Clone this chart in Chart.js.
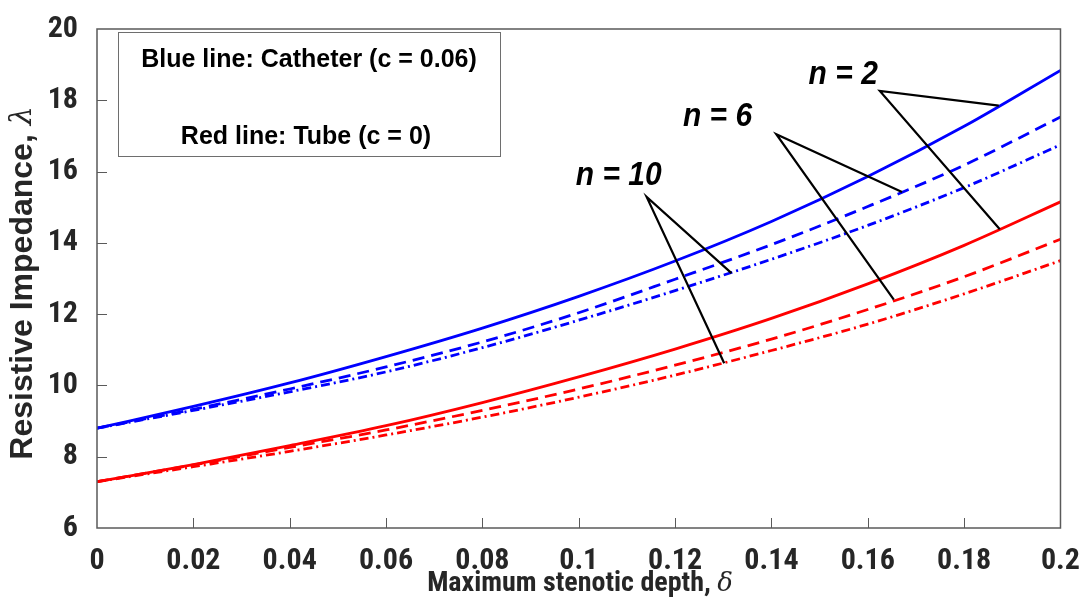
<!DOCTYPE html>
<html>
<head>
<meta charset="utf-8">
<script src="https://cdn.jsdelivr.net/npm/chart.js@4/dist/chart.umd.min.js"></script>
<style>
  html, body { margin: 0; padding: 0; background: #fff; }
  canvas { display: block; }
</style>
</head>
<body>
<canvas id="chart" width="1087" height="600"></canvas>
<script>
// stenotic depth values (x) and resistive impedance
const depth = [0, 0.02, 0.04, 0.06, 0.08, 0.1, 0.12, 0.14, 0.16, 0.18, 0.2];

const catheterN2  = [8.80, 9.41, 10.07, 10.81, 11.61, 12.50, 13.49, 14.60, 15.86, 17.27, 18.84];
const catheterN6  = [8.80, 9.33, 9.90, 10.52, 11.22, 12.04, 12.98, 13.95, 15.02, 16.18, 17.53];
const catheterN10 = [8.80, 9.30, 9.82, 10.38, 11.06, 11.83, 12.66, 13.54, 14.49, 15.55, 16.75];

const tubeN2  = [7.30, 7.78, 8.31, 8.87, 9.52, 10.24, 11.02, 11.88, 12.85, 13.93, 15.15];
const tubeN6  = [7.30, 7.77, 8.26, 8.75, 9.30, 9.90, 10.57, 11.30, 12.13, 13.05, 14.10];
const tubeN10 = [7.30, 7.72, 8.15, 8.61, 9.11, 9.67, 10.29, 10.98, 11.72, 12.57, 13.50];

const xTicks = [0, 0.02, 0.04, 0.06, 0.08, 0.1, 0.12, 0.14, 0.16, 0.18, 0.2];
const xTickLabels = ['0', '0.02', '0.04', '0.06', '0.08', '0.1', '0.12', '0.14', '0.16', '0.18', '0.2'];
const yTicks = [6, 8, 10, 12, 14, 16, 18, 20];

// "n = ..." callouts, in data units
const calloutText = ['n = 2', 'n = 6', 'n = 10'];
const calloutX = [0.1549, 0.1288, 0.1083];
const calloutY = [18.72, 17.54, 15.89];
const apexX = [0.1625, 0.1410, 0.1141];
const apexY = [18.26, 17.05, 15.29];
const blueEndX = [0.1872, 0.1671, 0.1317];
const blueEndY = [17.85, 15.43, 13.15];
const redEndX = [0.1874, 0.1654, 0.1302];
const redEndY = [14.38, 12.41, 10.62];

const legendLines = ['Blue line: Catheter (c = 0.06)', 'Red line: Tube (c = 0)'];

const SANS = "'Liberation Sans', Arial, Helvetica, sans-serif";
const NARROW = "'Liberation Sans Narrow', 'Arial Narrow', 'Roboto Condensed', 'Liberation Sans', sans-serif";
const INK = '#262626';
const AXIS = '#5a5a5a';

const pts = (ys) => depth.map((x, i) => ({ x, y: ys[i] }));

function series(ys, color, dash) {
  return {
    data: pts(ys),
    borderColor: color,
    borderWidth: 2.8,
    borderDash: dash,
    pointRadius: 0,
    cubicInterpolationMode: 'monotone',
    fill: false,
  };
}

const overlay = {
  id: 'overlay',
  afterDraw(chart) {
    const { ctx, chartArea: a, scales: { x, y } } = chart;
    ctx.save();

    // axes box
    ctx.strokeStyle = AXIS;
    ctx.lineWidth = 1.5;
    ctx.strokeRect(a.left, a.top, a.right - a.left, a.bottom - a.top);

    // inward tick marks
    ctx.lineWidth = 1;
    ctx.beginPath();
    xTicks.slice(1, -1).forEach((v) => {
      const px = Math.round(x.getPixelForValue(v)) + 0.5;
      ctx.moveTo(px, a.bottom);
      ctx.lineTo(px, a.bottom - 10);
    });
    yTicks.slice(1, -1).forEach((v) => {
      const py = Math.round(y.getPixelForValue(v)) + 0.5;
      ctx.moveTo(a.left, py);
      ctx.lineTo(a.left + 10, py);
    });
    ctx.stroke();

    // leader lines
    ctx.strokeStyle = '#000';
    ctx.lineWidth = 2.2;
    calloutText.forEach((_, i) => {
      const ax = x.getPixelForValue(apexX[i]);
      const ay = y.getPixelForValue(apexY[i]);
      ctx.beginPath();
      ctx.moveTo(x.getPixelForValue(blueEndX[i]), y.getPixelForValue(blueEndY[i]));
      ctx.lineTo(ax, ay);
      ctx.lineTo(x.getPixelForValue(redEndX[i]), y.getPixelForValue(redEndY[i]));
      ctx.stroke();
    });

    // callout labels, slightly tall like the original
    ctx.fillStyle = '#000';
    ctx.font = `italic bold 30px ${SANS}`;
    ctx.textAlign = 'center';
    ctx.textBaseline = 'middle';
    calloutText.forEach((t, i) => {
      ctx.save();
      ctx.translate(x.getPixelForValue(calloutX[i]), y.getPixelForValue(calloutY[i]));
      ctx.scale(1, 1.12);
      ctx.fillText(t, 0, 0);
      ctx.restore();
    });

    // legend box
    ctx.strokeStyle = '#6e6e6e';
    ctx.lineWidth = 1;
    ctx.fillStyle = '#fff';
    ctx.fillRect(118.5, 32.5, 382, 124);
    ctx.strokeRect(118.5, 32.5, 382, 124);
    ctx.fillStyle = '#000';
    ctx.font = `bold 25px ${SANS}`;
    ctx.fillText(legendLines[0], 309, 60);
    ctx.fillText(legendLines[1], 306, 137);

    // axis titles with italic greek symbol
    drawTitle(ctx, 'Maximum stenotic depth, ', 'δ', 580, 584, 0, `bold 28px ${NARROW}`, 26);
    drawTitle(ctx, 'Resistive Impedance, ', 'λ', 23, 283, -Math.PI / 2, `bold 32px ${SANS}`, 30);

    ctx.restore();
  },
};

function drawTitle(ctx, text, sym, cx, cy, rot, mainFont, symSize) {
  const symFont = `italic ${symSize}px 'DejaVu Serif', 'Liberation Serif', serif`;
  ctx.save();
  ctx.translate(cx, cy);
  ctx.rotate(rot);
  ctx.font = mainFont;
  const w1 = ctx.measureText(text).width;
  ctx.font = symFont;
  const w2 = ctx.measureText(sym).width;
  const start = -(w1 + w2) / 2;
  ctx.textAlign = 'left';
  ctx.textBaseline = 'middle';
  ctx.fillStyle = INK;
  ctx.font = mainFont;
  ctx.fillText(text, start, 0);
  ctx.font = symFont;
  ctx.fillText(sym, start + w1, 0);
  ctx.restore();
}

new Chart(document.getElementById('chart'), {
  type: 'line',
  data: {
    datasets: [
      series(catheterN2, '#0000ff', []),
      series(catheterN6, '#0000ff', [12, 7]),
      series(catheterN10, '#0000ff', [9, 4, 2, 4]),
      series(tubeN2, '#ff0000', []),
      series(tubeN6, '#ff0000', [12, 7]),
      series(tubeN10, '#ff0000', [9, 4, 2, 4]),
    ],
  },
  options: {
    responsive: false,
    animation: false,
    events: [],
    layout: { padding: { top: 18, right: 24, left: 0, bottom: 0 } },
    plugins: { legend: { display: false }, tooltip: { enabled: false } },
    scales: {
      x: {
        type: 'linear',
        min: 0,
        max: 0.2,
        grid: { display: false },
        border: { display: false },
        afterBuildTicks: (scale) => { scale.ticks = xTicks.map((value) => ({ value })); },
        afterFit: (scale) => { scale.height = 72; },
        ticks: {
          color: INK,
          padding: 7,
          maxRotation: 0,
          autoSkip: false,
          font: { family: NARROW, size: 30, weight: 'bold' },
          callback: (value, index) => xTickLabels[index],
        },
      },
      y: {
        type: 'linear',
        min: 6,
        max: 20,
        grid: { display: false },
        border: { display: false },
        afterBuildTicks: (scale) => { scale.ticks = yTicks.map((value) => ({ value })); },
        afterFit: (scale) => { scale.width = 97; },
        ticks: {
          color: INK,
          padding: 11,
          autoSkip: false,
          font: { family: NARROW, size: 30, weight: 'bold' },
          callback: (value) => String(value),
        },
      },
    },
  },
  plugins: [overlay],
});
</script>
</body>
</html>
